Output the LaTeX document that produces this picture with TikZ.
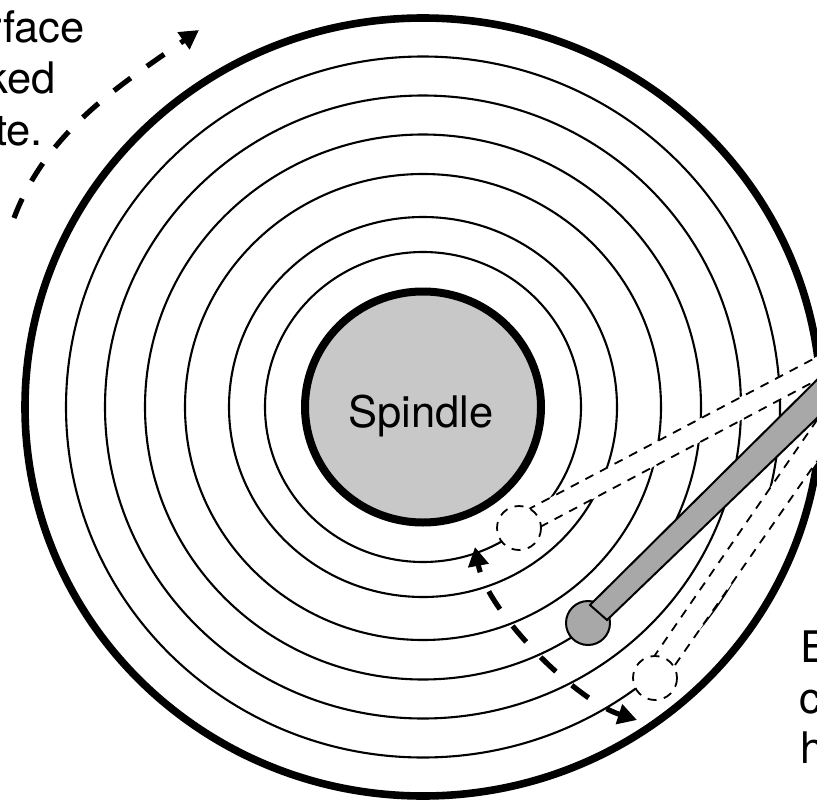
\documentclass[tikz,border=0pt]{standalone}
\usepackage{fontspec}
\setmainfont{TeX Gyre Heros}
\usepackage{xcolor}
\usetikzlibrary{arrows.meta}
\definecolor{figS}{RGB}{200,200,200}
\definecolor{figA}{RGB}{168,168,168}
\tikzset{
  track/.style={line width=2.1pt},
  ghost/.style={line width=1.8pt, dash pattern=on 9pt off 7.5pt},
  sweep/.style={line width=5.2pt, dash pattern=on 21pt off 20pt, -{Triangle[length=19pt,width=20pt]}},
  lbl/.style={font=\fontsize{43.5}{50}\selectfont, inner sep=0pt}
}
\begin{document}
\begin{tikzpicture}[x=1pt, y=-1pt]
\useasboundingbox (0,0) rectangle (817,803);
\clip (0,0) rectangle (817,803);
\coordinate (C) at (423,407);
% ===== disk and tracks =====
\draw[line width=7.6pt] (C) ellipse [x radius=398pt, y radius=389pt];
\foreach \rx/\ry in {357/350.5, 318/311.5, 278/272.5, 238/233, 194/190, 158/155}{
  \draw[track] (C) ellipse [x radius=\rx pt, y radius=\ry pt];
}
\draw[line width=8pt, fill=figS] (C) ellipse [x radius=118pt, y radius=115.5pt];
\node[lbl] (spindle) at (421,416) {Spindle};
% ===== ghost positions of the arm =====
\coordinate (G1) at (519,528);
\coordinate (G2) at (655,678);
\fill[white] (527,510) -- (835,347) -- (835,370) -- (540,527) -- cycle;
\fill[white] (653,658) -- (835,394) -- (835,436) -- (675,665) -- cycle;
\draw[ghost] (527,510) -- (817,357);
\draw[ghost] (540,527) -- (817,380);
\draw[ghost] (653,658) -- (817,420);
\draw[ghost] (675,665) -- (817,461);
\draw[ghost, fill=white] (G1) circle (22);
\draw[ghost, fill=white] (G2) circle (22);
% ===== arm =====
\coordinate (H) at (588,623);
\draw[line width=2pt, fill=figA] (H) circle (22);
\draw[line width=2pt, fill=figA] (590,605) -- (840,357) -- (840,396) -- (607,620) -- cycle;
% ===== sweep arrows =====
\draw[sweep] (14,218) .. controls (47,130) and (122,84) .. (199,30);
\draw[sweep, dash pattern=on 21pt off 21pt, dash phase=13pt, {Triangle[length=19pt,width=20pt]}-{Triangle[length=19pt,width=20pt]}] (475,547) .. controls (487,612) and (575,700) .. (637,720);
% ===== labels, cut by the page edge =====
\node[lbl, anchor=base east] (rate1) at (85,42) {rface};
\node[lbl, anchor=base east] (rate2) at (56,93) {ked};
\node[lbl, anchor=base east] (rate3) at (43,145) {te.};
\node[lbl, anchor=base west] (head1) at (800,662) {E};
\node[lbl, anchor=base west] (head2) at (799,713) {c};
\node[lbl, anchor=base west] (head3) at (800,763) {h};
\end{tikzpicture}
\end{document}
